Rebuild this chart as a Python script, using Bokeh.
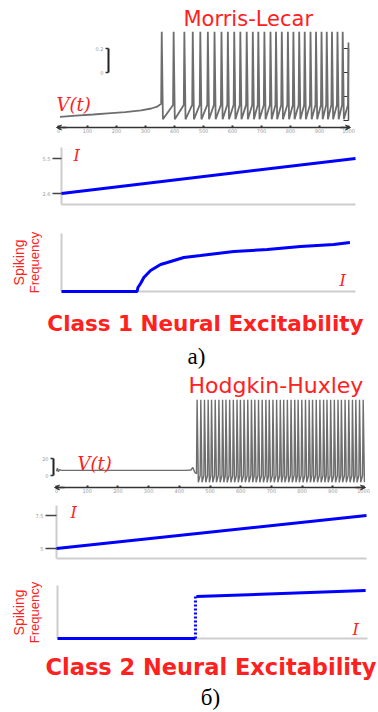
import math
from bokeh.plotting import figure
from bokeh.layouts import column
from bokeh.models import Range1d, LinearAxis, FixedTicker, Label, Arrow, VeeHead
from bokeh.embed import file_html
from bokeh.resources import INLINE

# ---------------- data ----------------
time_ticks = [0, 100, 200, 300, 400, 500, 600, 700, 800, 900, 1000]
time_tick_labels = ["0", "100", "200", "300", "400", "500", "600", "700", "800", "900", "1000"]

# Morris-Lecar membrane potential V(t)
ml_rest_t = [5, 60, 120, 170, 230, 285, 320, 340, 354]
ml_rest_v = [-0.37, -0.36, -0.35, -0.34, -0.33, -0.315, -0.30, -0.285, -0.26]
ml_spike_t = [354, 395, 432, 461, 487, 513, 536, 560, 582, 604, 625, 647, 668, 687, 708,
              729, 748, 768, 789, 808, 828, 847, 867, 886, 905, 923, 941, 960, 978, 998]
ml_peak_v = 0.34
ml_trough_v = -0.39
ml_thresh_v = -0.27
ml_last_peak_v = 0.25
ml_right_ticks = [-0.4, -0.2, 0.0, 0.2]
ml_scale_ticks = [0.0, 0.2]
ml_scale_labels = ["0", "0.2"]

# Class 1 input current ramp
ml_ramp_t = [0, 1000]
ml_ramp_I = [2.6, 5.5]
ml_I_ticks = [2.6, 5.5]
ml_I_labels = ["2.6", "5.5"]

# Class 1 f-I curve
c1_I = [0, 2.57, 2.60, 2.69, 2.80, 3.03, 3.37, 3.60, 4.16, 4.73, 5.86, 7.00, 8.13, 9.26, 9.81]
c1_f = [0, 0, 4, 8, 14, 21, 27, 29, 34, 36, 40, 42, 45, 47, 49]

# Hodgkin-Huxley membrane potential V(t)
hh_rest_t = [0, 3, 6, 10, 16, 60, 150, 250, 350, 420, 438, 444, 450, 456]
hh_rest_v = [5, 8.5, 4.5, 7, 6, 6, 6, 6, 6, 6, 6.5, 9.5, 4, 2]
hh_spike_t = [456, 468, 480, 492, 503, 515, 527, 539, 550, 562, 574, 586, 597, 609, 621, 633,
              644, 656, 668, 680, 691, 703, 715, 727, 738, 750, 762, 774, 785, 797, 809, 821,
              832, 844, 856, 868, 879, 891, 903, 915, 926, 938, 950, 962, 973, 985, 997]
hh_peak_v = 89
hh_trough_v = -8
hh_thresh_v = 0
hh_scale_ticks = [0, 20]
hh_scale_labels = ["0", "20"]

# Class 2 input current ramp
hh_ramp_t = [0, 1000]
hh_ramp_I = [5.0, 7.5]
hh_I_ticks = [5.0, 7.5]
hh_I_labels = ["5", "7.5"]

# Class 2 f-I curve
c2_low_I = [0, 4.45]
c2_low_f = [0, 0]
c2_jump_I = [4.45, 4.45]
c2_jump_f = [0, 42]
c2_high_I = [4.48, 9.94]
c2_high_f = [42, 48]

# ---------------- styling / layout ----------------
W, M = 378, 0
RED = "#ff2020"
BLUE = "#0000ff"
TRACE = "#6e6e6e"
LIGHT = "#cdcdcd"
DARK = "#333333"
TICKLBL = "#9a9a9a"
BASE_SHIFT = 0.3  # em offset so that the drawn baseline lands on the wanted pixel


def make_fig(top, h, xa, ya):
    (px0, d0), (px1, d1) = xa
    kx = (d1 - d0) / (px1 - px0)
    (py0, v0), (py1, v1) = ya
    ky = (v1 - v0) / (py1 - py0)

    def X(px):
        return d0 + (px - px0) * kx

    def Y(py):
        return v0 + (py - py0) * ky

    p = figure(width=W, height=h, x_range=Range1d(X(M), X(M + W)),
               y_range=Range1d(Y(top + h), Y(top)), output_backend="svg",
               toolbar_location=None, min_border=0, x_axis_type=None,
               y_axis_type=None, title=None)
    p.outline_line_color = None
    p.background_fill_color = "white"
    p.border_fill_color = "white"
    return p, X, Y


def add_axis(p, side, loc, bounds, ticks=(), labels=None, line_color=DARK, line_width=1.5,
             tick_color=DARK, tick_in=0, tick_out=0, tick_width=1.0, label_size="5px", standoff=2):
    ax = LinearAxis(fixed_location=loc, bounds=bounds,
                    ticker=FixedTicker(ticks=list(ticks), minor_ticks=[]))
    ax.axis_line_color = line_color
    ax.axis_line_width = line_width
    ax.major_tick_line_color = tick_color
    ax.major_tick_line_width = tick_width
    ax.major_tick_in = tick_in
    ax.major_tick_out = tick_out
    ax.minor_tick_line_color = None
    ax.major_label_text_font_size = label_size
    ax.major_label_text_color = TICKLBL
    ax.major_label_text_font = "DejaVu Sans"
    ax.major_label_standoff = standoff
    ax.level = "underlay"
    if labels:
        ax.major_label_overrides = {t: l for t, l in zip(ticks, labels)}
    else:
        ax.major_label_text_color = None
    p.add_layout(ax, side)
    return ax


def add_text(p, X, Y, px, py, text, size, color=RED, font="DejaVu Sans", style="normal",
             align="left", rotated=False):
    if rotated:
        px -= BASE_SHIFT * size
    else:
        py -= BASE_SHIFT * size
    p.add_layout(Label(x=X(px), y=Y(py), text=text, text_font=font, text_font_size=f"{size}px",
                       text_font_style=style, text_color=color, text_align=align,
                       text_baseline="alphabetic", angle=math.pi / 2 if rotated else 0.0))


def add_arrows(p, X, y, left_px, right_px):
    for xs, xe in ((X(right_px - 8), X(right_px + 2)), (X(left_px + 8), X(left_px - 2))):
        p.add_layout(Arrow(end=VeeHead(size=5, line_color=DARK, fill_color=DARK, line_width=1),
                           x_start=xs, y_start=y, x_end=xe, y_end=y,
                           line_color=DARK, line_width=1.5))


def spike_train(rest_t, rest_v, spikes, peak, trough, thresh, last_peak=None):
    ts, vs = list(rest_t), list(rest_v)
    for i, s in enumerate(spikes):
        if i > 0:
            ts.append(s)
            vs.append(thresh)
        if i == len(spikes) - 1 and last_peak is not None:
            ts.append(s + 2)
            vs.append(last_peak)
        else:
            ts += [s + 2, s + 6]
            vs += [peak, trough]
    return ts, vs


figs = []

# ---- A1: Morris-Lecar V(t) ----
a1, X, Y = make_fig(0, 138, ((58, 0), (348, 1000)), ((72, 0.0), (48, 0.2)))
ml_t, ml_v = spike_train(ml_rest_t, ml_rest_v, ml_spike_t, ml_peak_v, ml_trough_v,
                         ml_thresh_v, ml_last_peak_v)
a1.line(ml_t, ml_v, line_color=TRACE, line_width=1.8)
add_axis(a1, "below", Y(127), (0, 1000), time_ticks, time_tick_labels, tick_in=2,
         tick_width=2, label_size="5px", standoff=1)
add_arrows(a1, X, Y(127), 58, 348)
add_axis(a1, "right", 1000, (-0.4, 0.2), ml_right_ticks, None, line_color="#555555",
         tick_in=5, tick_out=0, tick_width=1.2)
add_axis(a1, "left", X(108), (0.0, 0.2), ml_scale_ticks, ml_scale_labels, line_color="#222222",
         line_width=2, tick_out=3, tick_width=1.5, label_size="5px", standoff=2)
add_text(a1, X, Y, 183, 25, "Morris-Lecar", 21)
add_text(a1, X, Y, 56, 109, "V(t)", 18, font="DejaVu Serif", style="italic")
figs.append(a1)

# ---- A2: Class 1 current ramp ----
a2, X, Y = make_fig(138, 74, ((61, 0), (355, 1000)), ((193, ml_ramp_I[0]), (158, ml_ramp_I[1])))
add_axis(a2, "below", Y(204), (0, 1000), line_color=LIGHT, line_width=2)
add_axis(a2, "left", 0, (Y(204), Y(147)), ml_I_ticks, ml_I_labels, line_color=LIGHT,
         line_width=2, tick_color="#444444", tick_out=9, tick_width=1.5, label_size="5px")
a2.line(ml_ramp_t, ml_ramp_I, line_color=BLUE, line_width=3)
add_text(a2, X, Y, 73, 160, "I", 16, font="DejaVu Serif", style="italic")
figs.append(a2)

# ---- A3: Class 1 f-I curve ----
a3, X, Y = make_fig(212, 160, ((61, 0), (355, 10)), ((291, 0), (241, 50)))
add_axis(a3, "below", 0, (0, 10), line_color=LIGHT, line_width=2)
add_axis(a3, "left", 0, (0, Y(233)), line_color=LIGHT, line_width=2)
a3.line(c1_I, c1_f, line_color=BLUE, line_width=3)
add_text(a3, X, Y, 339, 285, "I", 16, font="DejaVu Serif", style="italic")
add_text(a3, X, Y, 23, 262, "Spiking", 14, font="Liberation Sans", align="center", rotated=True)
add_text(a3, X, Y, 38, 262, "Frequency", 13, font="Liberation Sans", align="center", rotated=True)
add_text(a3, X, Y, 205, 329, "Class 1 Neural Excitability", 21.5, style="bold", align="center")
add_text(a3, X, Y, 196, 363, "a)", 23, color="black", font="Liberation Serif", align="center")
figs.append(a3)

# ---- B1: Hodgkin-Huxley V(t) ----
b1, X, Y = make_fig(372, 126, ((56, 0), (363, 1000)), ((475, 0), (458, 20)))
hh_t, hh_v = spike_train(hh_rest_t, hh_rest_v, hh_spike_t, hh_peak_v, hh_trough_v, hh_thresh_v)
b1.line(hh_t, hh_v, line_color=TRACE, line_width=1.4)
add_axis(b1, "below", Y(487), (0, 1000), time_ticks, time_tick_labels, tick_in=2,
         tick_width=2, label_size="5px", standoff=1)
add_arrows(b1, X, Y(487), 56, 363)
add_axis(b1, "left", X(53), (0, 20), hh_scale_ticks, hh_scale_labels, line_color="#222222",
         line_width=2, tick_out=3, tick_width=1.5, label_size="5px", standoff=2)
add_text(b1, X, Y, 188, 392, "Hodgkin-Huxley", 22)
add_text(b1, X, Y, 77, 468, "V(t)", 18, font="DejaVu Serif", style="italic")
figs.append(b1)

# ---- B2: Class 2 current ramp ----
b2, X, Y = make_fig(498, 72, ((56, 0), (366, 1000)), ((548, hh_ramp_I[0]), (515, hh_ramp_I[1])))
add_axis(b2, "below", Y(558), (0, 1000), line_color=LIGHT, line_width=2)
add_axis(b2, "left", 0, (Y(558), Y(505)), hh_I_ticks, hh_I_labels, line_color=LIGHT,
         line_width=2, tick_color="#444444", tick_out=11, tick_width=1.5, label_size="5px")
b2.line(hh_ramp_t, hh_ramp_I, line_color=BLUE, line_width=3)
add_text(b2, X, Y, 70, 517, "I", 16, font="DejaVu Serif", style="italic")
figs.append(b2)

# ---- B3: Class 2 f-I curve ----
b3, X, Y = make_fig(570, 142, ((57, 0), (367, 10)), ((638, 0), (588, 50)))
add_axis(b3, "below", 0, (0, 10), line_color=LIGHT, line_width=2)
add_axis(b3, "left", 0, (0, Y(585)), line_color=LIGHT, line_width=2)
b3.line(c2_low_I, c2_low_f, line_color=BLUE, line_width=3)
b3.line(c2_jump_I, c2_jump_f, line_color=BLUE, line_width=3, line_dash="2 2")
b3.line(c2_high_I, c2_high_f, line_color=BLUE, line_width=3)
add_text(b3, X, Y, 352, 634, "I", 16, font="DejaVu Serif", style="italic")
add_text(b3, X, Y, 23, 612, "Spiking", 14, font="Liberation Sans", align="center", rotated=True)
add_text(b3, X, Y, 38, 612, "Frequency", 13, font="Liberation Sans", align="center", rotated=True)
add_text(b3, X, Y, 45, 673, "Class 2 Neural Excitability", 22.5, style="bold")
add_text(b3, X, Y, 210, 704, "б)", 23, color="black", font="Liberation Serif", align="center")
figs.append(b3)

layout = column(*figs, spacing=0)
open("out.html", "w").write(file_html(layout, INLINE))
